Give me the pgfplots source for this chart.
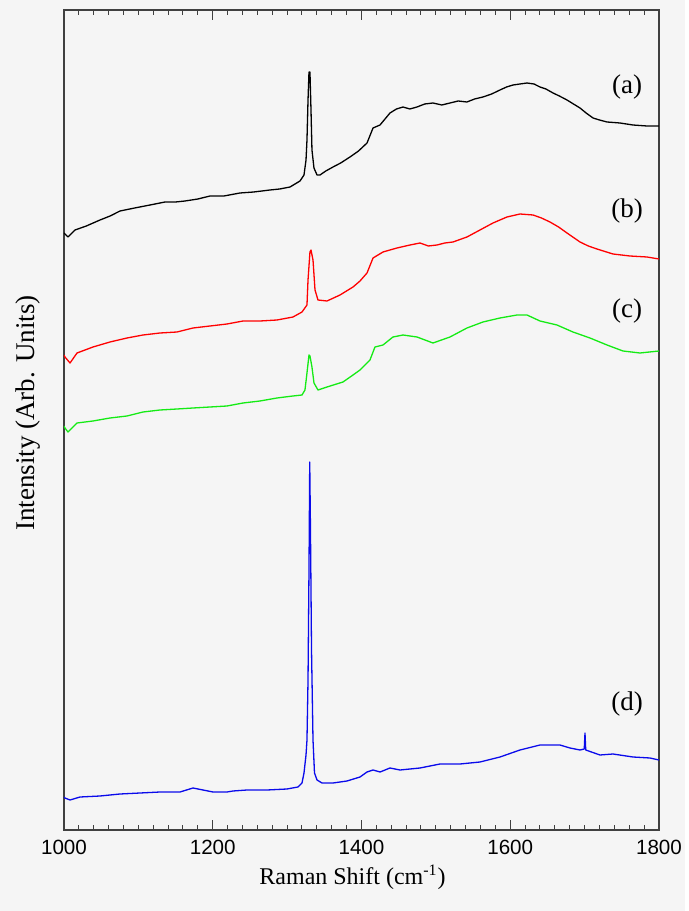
\documentclass[border=0pt]{standalone}
\usepackage{fontspec}
\setmainfont{Liberation Serif}
\newfontfamily\ticksans{Liberation Sans}
\usepackage{pgfplots}
\pgfplotsset{compat=1.18}
\definecolor{bg}{HTML}{F5F5F5}
\definecolor{ax}{HTML}{404040}
\definecolor{ggreen}{RGB}{20,235,20}
\definecolor{bblue}{RGB}{10,10,235}
\begin{document}
\begin{tikzpicture}
\fill[bg] (-32pt,-40.5pt) rectangle (310.5pt,415pt);
\begin{axis}[
  at={(0,0)}, anchor=south west,
  scale only axis, width=297.5pt, height=410pt,
  xmin=1000, xmax=1800, ymin=0, ymax=820,
  ytick=\empty,
  xtick={1000,1200,...,1800},
  minor x tick num=9,
  tick align=inside,
  major tick length=5pt, minor tick length=2.5pt,
  axis line style={ax, line width=0.6pt},
  every tick/.style={ax, line width=0.5pt},
  ticklabel style={font=\ticksans\fontsize{10.3}{12}\selectfont},
  /pgf/number format/assume math mode=true,
  /pgf/number format/1000 sep={},
  xticklabel style={yshift=-1.4pt},
  xlabel={Raman Shift (cm\textsuperscript{-1})},
  xlabel style={at={(axis description cs:0.485,0)}, anchor=center, yshift=-23.5pt, font=\fontsize{12}{14}\selectfont},
  ylabel={Intensity (Arb. Units)},
  ylabel style={at={(axis description cs:-0.0605,0.5085)}, anchor=center, rotate=0, font=\fontsize{13.5}{16}\selectfont},
  every axis plot/.append style={line width=0.65pt, line join=round},
]
% (a)
\addplot[black] coordinates {
(1000,597) (1005.4,593) (1014.8,600) (1030,604) (1048.4,610) (1062,614) (1075.3,619) (1095,622) (1115.6,625) (1135.8,628) (1150,628) (1162.7,629) (1180,631) (1196.3,634) (1215,634) (1236.6,637) (1255,638) (1277,640) (1290,641) (1303.9,643) (1317.3,649) (1322.7,655) (1325.4,670) (1326.7,690) (1328.1,730) (1329.4,758) (1330.7,758) (1332.1,720) (1333.4,680) (1336.1,662) (1340.2,655) (1344.2,655) (1352,659) (1361.7,663) (1372,667) (1384.5,673) (1396,679) (1407.4,687) (1415.5,702) (1424.9,705) (1438.3,717) (1447,721) (1455.8,723) (1465,721) (1474.6,723) (1485,726) (1496.1,727) (1508,725) (1519,727) (1530,729) (1541.8,728) (1552,731) (1563.3,733) (1575,736) (1586.2,740) (1595,743) (1603.7,745) (1613,746) (1622.5,747) (1632,746) (1640,743) (1648,741) (1657.5,737) (1666,734) (1676.3,730) (1685,726) (1693.8,722) (1702,717) (1711.3,712) (1720,710) (1730.1,708) (1747.5,707) (1765,705) (1783.9,704) (1800,704)
};
% (b)
\addplot[red] coordinates {
(1000,475) (1001.3,473) (1008.1,467) (1017.5,477) (1039,483) (1061.8,488) (1084.7,492) (1106.2,495) (1129.1,497) (1151.9,498) (1173.4,502) (1196.3,504) (1219.2,506) (1240.7,509) (1263.5,509) (1286.4,510) (1307.9,513) (1320,518) (1326.7,525) (1328.1,550) (1330.7,578) (1332.1,580) (1334.8,570) (1337.5,540) (1341.5,530) (1353.6,529) (1371.1,535) (1388.6,543) (1398,549) (1407.4,557) (1415.5,572) (1428.9,578) (1447.7,582) (1465.2,585) (1478.6,587) (1490,584) (1501.5,585) (1512,587) (1523,588) (1541.8,593) (1559.3,600) (1576.8,607) (1595.6,613) (1613.1,616) (1630.6,615) (1642,612) (1653.4,608) (1665,603) (1676.3,597) (1693.8,588) (1705,584) (1716.6,581) (1738.1,576) (1761,574) (1783.9,573) (1800,571)
};
% (c)
\addplot[ggreen] coordinates {
(1000,404) (1001.3,402) (1005.4,398) (1017.5,407) (1039,409) (1061.8,412) (1084.7,414) (1106.2,418) (1129.1,420) (1151.9,421) (1173.4,422) (1196.3,423) (1219.2,424) (1240.7,427) (1263.5,429) (1286.4,432) (1307.9,434) (1320,435) (1324,440) (1326.7,457) (1329.4,475) (1330.7,474) (1333.4,463) (1336.1,447) (1341.5,440) (1353.6,443) (1375.1,448) (1388.6,455) (1398,460) (1411.4,470) (1418.1,483) (1428.9,485) (1442.3,493) (1455.8,495) (1474.6,493) (1496.1,487) (1519,493) (1541.8,502) (1563.3,508) (1586.2,512) (1609.1,515) (1622.5,515) (1640,509) (1662.8,505) (1684.3,498) (1707.2,492) (1730.1,485) (1751.6,479) (1774.4,477) (1800,479)
};
% (d)
\addplot[bblue] coordinates {
(1000,33) (1001.3,32) (1008.1,30) (1021.5,33) (1048.4,34) (1075.3,36) (1102.2,37) (1129.1,38) (1156,38) (1173.4,42) (1186.9,40) (1200.3,38) (1219.2,38) (1227.2,39) (1246,40) (1272.9,40) (1299.8,41) (1314.6,43) (1320,47) (1322.7,57) (1325.4,75) (1326.7,90) (1328.1,150) (1329.4,260) (1330.4,368) (1331.4,300) (1332.8,180) (1334.8,90) (1336.8,57) (1340.2,50) (1346.9,47) (1361.7,47) (1380.5,49) (1398,53) (1407.4,58) (1415.5,60) (1424.9,58) (1438.3,62) (1451.8,60) (1478.6,62) (1505.5,66) (1532.4,66) (1559.3,68) (1586.2,73) (1613.1,80) (1640,85) (1666.9,85) (1680.3,82) (1693.8,80) (1699.5,81) (1700.5,97) (1701.5,80) (1720.7,75) (1738.1,76) (1765,73) (1787.9,72) (1800,70)
};
\node[font=\fontsize{13.5}{16}\selectfont] at (axis cs:1757,743) {(a)};
\node[font=\fontsize{13.5}{16}\selectfont] at (axis cs:1757,618.5) {(b)};
\node[font=\fontsize{13.5}{16}\selectfont] at (axis cs:1757,519) {(c)};
\node[font=\fontsize{13.5}{16}\selectfont] at (axis cs:1757,126) {(d)};
\end{axis}
\end{tikzpicture}
\end{document}
